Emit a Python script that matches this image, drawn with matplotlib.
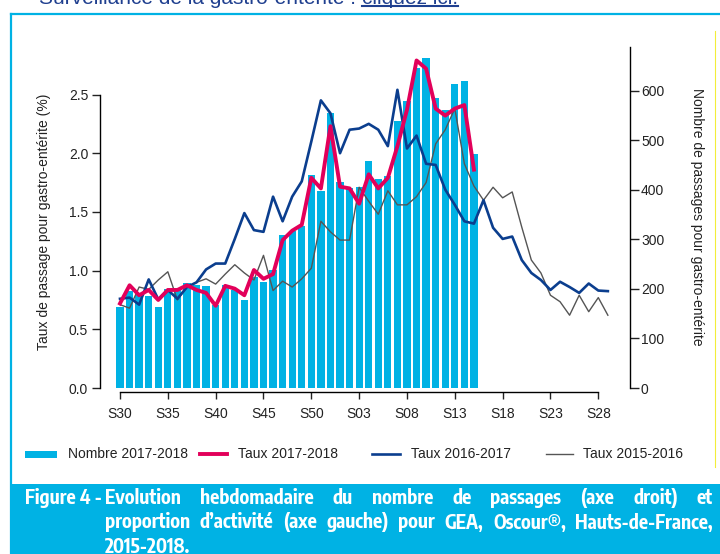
import matplotlib
matplotlib.use("Agg")
import matplotlib.pyplot as plt
import numpy as np
from matplotlib import font_manager
from matplotlib.font_manager import FontProperties
from matplotlib.lines import Line2D
from matplotlib.patches import Rectangle

plt.rcParams["font.family"] = ["Liberation Sans", "DejaVu Sans"]

W, H = 720, 554          # output size in px (dpi 100)

# ---- data ------------------------------------------------------------------
weeks = [f"S{w:02d}" for w in list(range(30, 53)) + list(range(1, 30))]

# weekly count 2017-2018 (right axis)
nombre_1718 = [164, 195, 188, 186, 164, 200, 198, 212, 208, 205,
               168, 207, 198, 178, 224, 214, 239, 309, 317, 327,
               430, 397, 555, 415, 403, 405, 459, 422, 428, 538,
               580, 646, 666, 585, 562, 613, 620, 473]

# rate (%) per season (left axis)
taux_1718 = [0.72, 0.875, 0.79, 0.835, 0.75, 0.835, 0.835, 0.875, 0.835, 0.81,
             0.70, 0.87, 0.846, 0.79, 1.005, 0.93, 0.97, 1.26, 1.34, 1.39,
             1.79, 1.70, 2.23, 1.715, 1.70, 1.57, 1.82, 1.70, 1.79, 2.06,
             2.37, 2.79, 2.72, 2.38, 2.32, 2.38, 2.41, 1.86]

taux_1617 = [0.76, 0.77, 0.71, 0.925, 0.755, 0.835, 0.76, 0.86, 0.90, 1.01,
             1.06, 1.06, 1.27, 1.49, 1.345, 1.33, 1.63, 1.42, 1.63, 1.76,
             2.10, 2.45, 2.34, 2.00, 2.20, 2.21, 2.25, 2.20, 2.06, 2.54,
             2.04, 2.15, 1.91, 1.90, 1.69, 1.56, 1.42, 1.40, 1.60, 1.365,
             1.27, 1.29, 1.09, 0.98, 0.92, 0.835, 0.905, 0.86, 0.81, 0.89,
             0.83, 0.825]

taux_1516 = [0.71, 0.68, 0.86, 0.84, 0.92, 0.99, 0.75, 0.86, 0.90, 0.93,
             0.885, 0.97, 1.05, 0.98, 0.92, 1.13, 0.83, 0.91, 0.86, 0.93,
             1.02, 1.42, 1.33, 1.26, 1.26, 1.71, 1.59, 1.48, 1.68, 1.56,
             1.56, 1.63, 1.75, 2.08, 2.20, 2.38, 1.91, 1.72, 1.60, 1.71,
             1.62, 1.67, 1.37, 1.09, 0.98, 0.79, 0.735, 0.62, 0.79, 0.65,
             0.77, 0.62]

CYAN = "#00b2e4"
RED = "#e2005a"
BLUE = "#0b3e8e"
GREY = "#555555"
LINK = "#1f3f8f"


def fx(px):
    return px / W


def fy(py):
    return 1 - py / H


fig = plt.figure(figsize=(W / 100, H / 100), dpi=100)
renderer = fig.canvas.get_renderer()


def width_px(t):
    return t.get_window_extent(renderer=renderer).width


# ---- page decoration: cyan frame + caption band ----------------------------
fig.add_artist(Line2D([fx(11), fx(11)], [fy(14), fy(H)], color=CYAN, lw=1.6))
fig.add_artist(Line2D([fx(11), fx(W)], [fy(14), fy(14)], color=CYAN, lw=1.6))
fig.add_artist(Line2D([fx(715), fx(715)], [fy(31), fy(467)], color="#f2ee3a", lw=0.8))
fig.add_artist(Rectangle((fx(10), 0), fx(W) - fx(10), fy(484), color=CYAN, lw=0))

# line of text above the figure, cut by the page edge as in the screenshot
t1 = fig.text(fx(39), fy(4.5), "Surveillance de la gastro-entérite : ",
              fontsize=15, color=LINK, va="baseline")
x_link = 39 + width_px(t1)
t2 = fig.text(fx(x_link), fy(4.5), "cliquez ici.", fontsize=15, color=LINK, va="baseline")
fig.add_artist(Line2D([fx(x_link), fx(x_link + width_px(t2))], [fy(6), fy(6)],
                      color=LINK, lw=1.5))

# ---- chart ------------------------------------------------------------------
ax = fig.add_axes([fx(100), fy(388), fx(630) - fx(100), fy(47) - fy(388)])
ax2 = ax.twinx()
ax.set_zorder(ax2.get_zorder() + 1)
ax.patch.set_visible(False)

x_bar = np.arange(len(nombre_1718))
ax2.bar(x_bar, nombre_1718, width=0.76, color=CYAN, linewidth=0)

ax.plot(np.arange(len(taux_1516)), taux_1516, color=GREY, lw=1.0)
ax.plot(np.arange(len(taux_1617)), taux_1617, color=BLUE, lw=1.9)
ax.plot(np.arange(len(taux_1718)), taux_1718, color=RED, lw=2.8)

xl = -(120 - 100) / 9.566
xr = 50 + (630 - 598.3) / 9.566
ax.set_xlim(xl, xr)
ax.set_ylim(0, (388 - 47) / 117.4)
ax2.set_ylim(0, (388 - 47) / 0.4955)

tick_idx = list(range(0, 51, 5))
ax.set_xticks(tick_idx)
ax.set_xticklabels([weeks[i] for i in tick_idx])
ax.set_yticks([0, 0.5, 1.0, 1.5, 2.0, 2.5])
ax.set_yticklabels(["0.0", "0.5", "1.0", "1.5", "2.0", "2.5"])
ax2.set_yticks(range(0, 601, 100))

for s in ["top", "right"]:
    ax.spines[s].set_visible(False)
for s in ["top", "left", "bottom"]:
    ax2.spines[s].set_visible(False)
ax.spines["left"].set_bounds(0, 2.5)
ax.spines["bottom"].set_position(("outward", 3))
ax.spines["bottom"].set_bounds(0, 50)
ax2.spines["right"].set_bounds(0, ax2.get_ylim()[1])
for sp in [ax.spines["left"], ax.spines["bottom"], ax2.spines["right"]]:
    sp.set_linewidth(1.0)

ax.tick_params(axis="x", length=5, width=1, pad=5.5, labelsize=10, colors="#222222")
ax.tick_params(axis="y", length=6, width=1, pad=2.5, labelsize=10, colors="#222222")
ax2.tick_params(axis="y", length=6.2, width=1, pad=1.7, labelsize=10, colors="#222222")

fig.text(fx(44), fy(222), "Taux de passage pour gastro-entérite (%)", rotation=90,
         ha="center", va="center", fontsize=10, color="#222222")
fig.text(fx(697), fy(217), "Nombre de passages pour gastro-entérite", rotation=-90,
         ha="center", va="center", fontsize=10, color="#222222")

# ---- legend (hand placed, as in the source) -------------------------------
ly = fy(454)
fig.add_artist(Rectangle((fx(25), fy(457.5)), fx(57) - fx(25), fy(450.5) - fy(457.5),
                         color=CYAN, lw=0))
fig.add_artist(Line2D([fx(200), fx(227)], [ly, ly], color=RED, lw=2.8))
fig.add_artist(Line2D([fx(372), fx(400)], [ly, ly], color=BLUE, lw=1.9))
fig.add_artist(Line2D([fx(546), fx(573)], [ly, ly], color=GREY, lw=1.0))
for xt, lab in [(68, "Nombre 2017-2018"), (238, "Taux 2017-2018"),
                (411, "Taux 2016-2017"), (583, "Taux 2015-2016")]:
    fig.text(fx(xt), ly, lab, fontsize=10, va="center", color="#222222")

# ---- caption (justified, white bold narrow) ---------------------------------
# look for a condensed / narrow bold face, else plain bold
cap_fp = FontProperties(family="Liberation Sans", weight="bold")
for f in font_manager.fontManager.ttflist:
    nm = f.name.lower()
    if ("narrow" in nm or "condensed" in nm) and f.weight in ("bold", 700) \
            and f.style == "normal" and "sans" in nm:
        cap_fp = FontProperties(fname=f.fname)
        break

# size the face so that "2015-2018." is as wide as in the source (~85 px)
probe = fig.text(0, 0, "2015-2018.", fontproperties=cap_fp, fontsize=10)
cap_size = 10 * 85 / width_px(probe)
probe.remove()
cap_size = min(cap_size, 15)

cap_kw = dict(fontproperties=cap_fp, fontsize=cap_size, color="white", va="center")


def justify(words, x0, x1, y):
    texts = [fig.text(0, fy(y), w, **cap_kw) for w in words]
    widths = [width_px(t) for t in texts]
    gap = (x1 - x0 - sum(widths)) / (len(words) - 1)
    x = x0
    for t, w in zip(texts, widths):
        t.set_x(fx(x))
        x += w + gap


fig.text(fx(25), fy(498), "Figure 4 -", **cap_kw)
justify("Evolution hebdomadaire du nombre de passages (axe droit) et".split(),
        105, 713, 498)
justify("proportion d\u2019activité (axe gauche) pour GEA, Oscour®, Hauts-de-France,".split(),
        105, 713, 522.5)
fig.text(fx(105), fy(547), "2015-2018.", **cap_kw)

fig.savefig("out.png", dpi=100)
